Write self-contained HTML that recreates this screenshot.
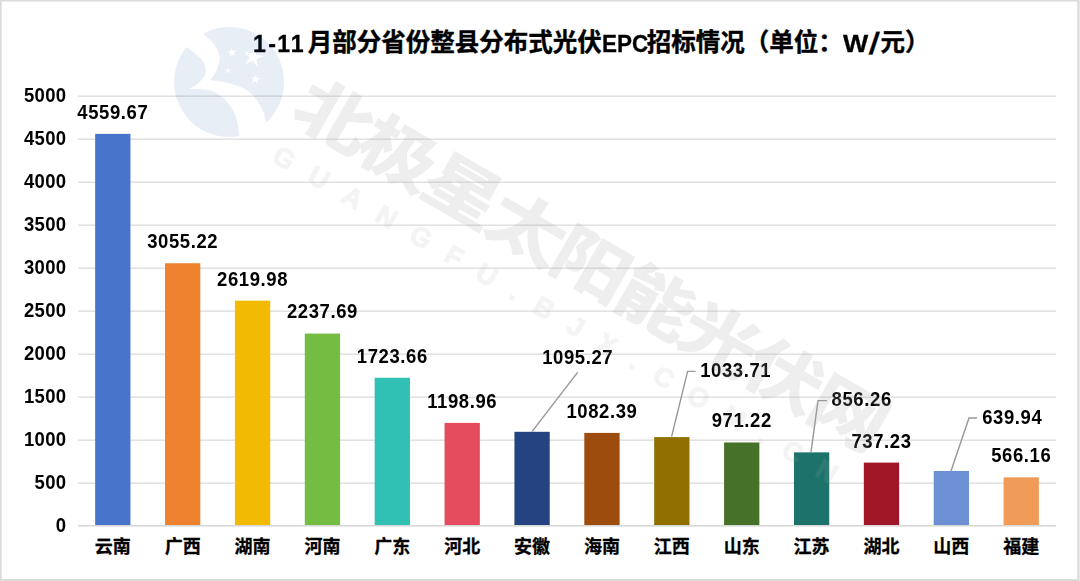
<!DOCTYPE html>
<html lang="zh-CN">
<head>
<meta charset="utf-8">
<title>1-11月部分省份整县分布式光伏EPC招标情况（单位：W/元）</title>
<style>
html,body{margin:0;padding:0;background:#fff;}
body{width:1080px;height:581px;overflow:hidden;font-family:"Liberation Sans","Noto Sans CJK SC",sans-serif;}
#chart{position:relative;width:1080px;height:581px;overflow:hidden;background:#fff;}
.ov{position:absolute;left:0;top:0;pointer-events:none;}
.gl{position:absolute;left:78px;width:978px;height:2px;background:linear-gradient(rgba(0,0,0,.068) 50%,rgba(0,0,0,.112) 50%);}
.ax{position:absolute;left:78px;width:978px;height:1px;background:#D6D6D6;box-shadow:0 1px 0 #E9E9E9;}
.yt,.vl{position:absolute;font-weight:bold;font-size:18.5px;line-height:24px;height:24px;color:#000;white-space:nowrap;transform:scaleY(1.05);}
.yt{left:0;width:66.5px;text-align:right;letter-spacing:0.35px;}
.vl{width:100px;text-align:center;letter-spacing:0.6px;}
.ct,.tz,.wz{position:absolute;color:#000;white-space:nowrap;font-weight:bold;margin:0;font-family:"Liberation Sans","Noto Sans CJK SC",sans-serif;}
.ct{-webkit-text-stroke:.3px #000;transform:translateY(-1px);}
.tz{-webkit-text-stroke:.4px #000;transform:translateY(-1.4px);}
.title{margin:0;font-size:24px;font-weight:bold;}
.te{position:absolute;top:30.2px;font-size:24.8px;line-height:28px;color:#000;-webkit-text-stroke:.3px #000;white-space:nowrap;transform-origin:0 50%;}
.wz{left:282.35px;top:122.14px;font-size:66px;line-height:66px;color:#A7A7A7;-webkit-text-stroke:1.2px #A7A7A7;opacity:.19;transform-origin:0 100%;transform:translateY(-58px) rotate(30deg) translateY(-3.8px) scaleX(1.18);letter-spacing:-3.1px;}
.we{position:absolute;left:275.4px;top:139.95px;font-size:27px;line-height:27px;font-weight:bold;color:#A7A7A7;-webkit-text-stroke:1.1px #A7A7A7;opacity:.12;white-space:nowrap;letter-spacing:19.6px;transform-origin:0 13px;transform:rotate(30deg);}

</style>
</head>
<body>
<div id="chart">
<div class="gl" style="top:482px"></div>
<div class="gl" style="top:439px"></div>
<div class="gl" style="top:396px"></div>
<div class="gl" style="top:353px"></div>
<div class="gl" style="top:310px"></div>
<div class="gl" style="top:267px"></div>
<div class="gl" style="top:224px"></div>
<div class="gl" style="top:181px"></div>
<div class="gl" style="top:138px"></div>
<div class="gl" style="top:95px"></div>
<div class="ax" style="top:525px"></div>
<div class="yt" style="top:514.10px">0</div>
<div class="yt" style="top:471.10px">500</div>
<div class="yt" style="top:428.10px">1000</div>
<div class="yt" style="top:385.10px">1500</div>
<div class="yt" style="top:342.10px">2000</div>
<div class="yt" style="top:299.10px">2500</div>
<div class="yt" style="top:256.10px">3000</div>
<div class="yt" style="top:213.10px">3500</div>
<div class="yt" style="top:170.10px">4000</div>
<div class="yt" style="top:127.10px">4500</div>
<div class="yt" style="top:84.10px">5000</div>
<svg class="ov" width="1080" height="581" viewBox="0 0 1080 581"><rect x="95.15" y="133.87" width="35.30" height="391.13" fill="#4874CB"/><rect x="165.03" y="263.25" width="35.30" height="261.75" fill="#EE822F"/><rect x="234.91" y="300.68" width="35.30" height="224.32" fill="#F2BA02"/><rect x="304.79" y="333.56" width="35.30" height="191.44" fill="#75BD42"/><rect x="374.67" y="377.77" width="35.30" height="147.23" fill="#30C0B4"/><rect x="444.55" y="422.89" width="35.30" height="102.11" fill="#E54C5E"/><rect x="514.43" y="431.81" width="35.30" height="93.19" fill="#254380"/><rect x="584.31" y="432.91" width="35.30" height="92.09" fill="#9E4C0D"/><rect x="654.19" y="437.10" width="35.30" height="87.90" fill="#917001"/><rect x="724.07" y="442.48" width="35.30" height="82.52" fill="#467128"/><rect x="793.95" y="452.36" width="35.30" height="72.64" fill="#1D736C"/><rect x="863.83" y="462.60" width="35.30" height="62.40" fill="#A01727"/><rect x="933.71" y="470.97" width="35.30" height="54.03" fill="#6D90D5"/><rect x="1003.59" y="477.31" width="35.30" height="47.69" fill="#F19B59"/></svg>
<svg class="ov" width="1080" height="581" viewBox="0 0 1080 581"><g fill="none" stroke="#979797" stroke-width="1.4"><polyline points="577.6,372.4 532.0,431.6"/><polyline points="695.6,371.4 687.6,371.4 671.6,436.6"/><polyline points="827.0,400.6 818.0,400.6 811.0,452.0"/><polyline points="977.0,418.0 969.0,418.0 951.0,471.0"/></g></svg>
<div class="vl" style="left:62.80px;top:100.77px">4559.67</div>
<div class="vl" style="left:132.68px;top:230.15px">3055.22</div>
<div class="vl" style="left:202.56px;top:267.58px">2619.98</div>
<div class="vl" style="left:272.44px;top:300.46px">2237.69</div>
<div class="vl" style="left:342.32px;top:344.67px">1723.66</div>
<div class="vl" style="left:412.20px;top:389.79px">1198.96</div>
<div class="vl" style="left:527.70px;top:345.60px">1095.27</div>
<div class="vl" style="left:551.96px;top:399.81px">1082.39</div>
<div class="vl" style="left:685.70px;top:359.00px">1033.71</div>
<div class="vl" style="left:691.72px;top:409.38px">971.22</div>
<div class="vl" style="left:811.70px;top:388.40px">856.26</div>
<div class="vl" style="left:831.48px;top:429.50px">737.23</div>
<div class="vl" style="left:962.30px;top:406.10px">639.94</div>
<div class="vl" style="left:971.24px;top:444.21px">566.16</div>
<div class="ct" style="left:94.80px;top:539.16px;font-size:18.00px;line-height:18.00px;width:36.00px">云南</div>
<div class="ct" style="left:164.68px;top:539.16px;font-size:18.00px;line-height:18.00px;width:36.00px">广西</div>
<div class="ct" style="left:234.56px;top:539.16px;font-size:18.00px;line-height:18.00px;width:36.00px">湖南</div>
<div class="ct" style="left:304.44px;top:539.16px;font-size:18.00px;line-height:18.00px;width:36.00px">河南</div>
<div class="ct" style="left:374.32px;top:539.16px;font-size:18.00px;line-height:18.00px;width:36.00px">广东</div>
<div class="ct" style="left:444.20px;top:539.16px;font-size:18.00px;line-height:18.00px;width:36.00px">河北</div>
<div class="ct" style="left:514.08px;top:539.16px;font-size:18.00px;line-height:18.00px;width:36.00px">安徽</div>
<div class="ct" style="left:583.96px;top:539.16px;font-size:18.00px;line-height:18.00px;width:36.00px">海南</div>
<div class="ct" style="left:653.84px;top:539.16px;font-size:18.00px;line-height:18.00px;width:36.00px">江西</div>
<div class="ct" style="left:723.72px;top:539.16px;font-size:18.00px;line-height:18.00px;width:36.00px">山东</div>
<div class="ct" style="left:793.60px;top:539.16px;font-size:18.00px;line-height:18.00px;width:36.00px">江苏</div>
<div class="ct" style="left:863.48px;top:539.16px;font-size:18.00px;line-height:18.00px;width:36.00px">湖北</div>
<div class="ct" style="left:933.36px;top:539.16px;font-size:18.00px;line-height:18.00px;width:36.00px">山西</div>
<div class="ct" style="left:1003.24px;top:539.16px;font-size:18.00px;line-height:18.00px;width:36.00px">福建</div>
<h1 class="title">
<span class="te" style="left:253.30px;font-size:24.80px;letter-spacing:0.00px;transform:scaleX(0.935)"><span style="letter-spacing:2.5px">1</span><span style="letter-spacing:1.5px">-</span><span style="letter-spacing:.6px">1</span>1</span>
<span class="tz" style="left:307.80px;top:31.74px;font-size:24.50px;line-height:24.50px">月部分省份整县分布式光伏</span>
<span class="te" style="left:601.70px;font-size:24.80px;letter-spacing:0.00px;transform:scaleX(0.905)">EPC</span>
<span class="tz" style="left:646.80px;top:31.74px;font-size:24.50px;line-height:24.50px">招标情况（单位：</span>
<span class="te" style="left:843.20px;font-size:24.80px;letter-spacing:0.00px;transform:scaleX(1.077)">W</span>
<span class="te" style="left:869.60px;font-size:30.80px;letter-spacing:0.00px;transform:scaleX(1.000) skewX(-8deg)">/</span>
<span class="tz" style="left:880.40px;top:31.74px;font-size:24.50px;line-height:24.50px">元）</span>
</h1>
<svg class="ov" width="1080" height="581" viewBox="0 0 1080 581"><mask id="lm" maskUnits="userSpaceOnUse" x="170" y="20" width="120" height="125"><circle cx="229.1" cy="82" r="55" fill="#fff"/><path d="M186.5 46.8C188.2 48.2 194.0 52.4 196.9 55.1C199.8 57.9 202.7 60.2 204.1 63.3C205.5 66.4 206.5 70.3 205.5 73.7C204.5 77.1 200.7 81.0 197.9 83.6C195.2 86.2 190.5 88.2 189.0 89.1C192.0 89.2 201.8 88.6 207.2 89.8C212.6 91.0 217.6 93.2 221.7 96.4C225.8 99.6 229.4 104.7 232.0 108.8C234.6 112.9 235.9 116.7 237.1 121.2C238.3 125.7 238.8 133.5 239.2 136.0L245 146L278 130L266.7 122.0C265.7 119.5 263.8 111.7 260.9 106.7C258.0 101.7 254.3 96.0 249.5 92.2C244.7 88.4 238.5 86.0 232.0 84.0C225.5 82.0 213.9 80.6 210.3 79.9C211.3 78.4 214.9 74.4 216.5 70.6C218.1 66.8 219.9 61.4 219.6 57.1C219.2 52.8 217.0 48.5 214.4 44.7C211.8 40.9 205.8 36.1 204.1 34.4L196 22L176 40Z" fill="#000"/><g fill="#000"><polygon points="255.8,46.5 256.1,54.7 264.2,56.2 256.5,59.0 257.6,67.1 252.5,60.7 245.1,64.3 249.6,57.4 244.0,51.5 251.9,53.7"/><polygon points="231.3,47.3 232.8,50.9 236.8,50.2 233.8,52.8 235.7,56.3 232.3,54.3 229.5,57.2 230.4,53.3 226.8,51.6 230.7,51.2"/><polygon points="228.8,67.1 229.1,69.7 231.7,70.0 229.3,71.1 229.7,73.6 228.0,71.7 225.7,72.9 227.0,70.7 225.1,68.9 227.7,69.4"/><polygon points="255.8,74.0 256.5,77.9 260.5,78.1 257.0,80.0 258.0,83.8 255.1,81.1 251.8,83.3 253.5,79.7 250.4,77.2 254.4,77.8"/></g></mask><rect x="170" y="20" width="120" height="125" fill="#1955A5" fill-opacity="0.1" mask="url(#lm)"/></svg>
<div class="wz">北极星太阳能光伏网</div><div class="we">GUANGFU.BJX.COM.CN</div><svg class="ov" width="1080" height="581" viewBox="0 0 1080 581"><path fill="#DBDBDB" fill-rule="evenodd" d="M0 0H1079.6V581H0ZM1.7 1.5V578.9H1077.3V1.5Z"/></svg>
</div>
</body>
</html>
